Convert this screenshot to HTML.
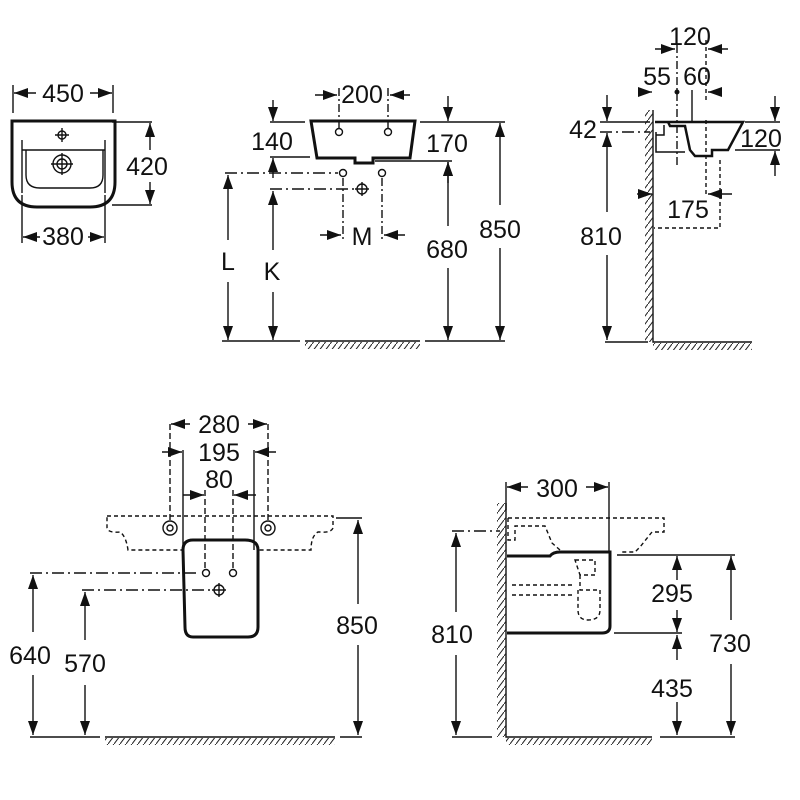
<!DOCTYPE html>
<html><head><meta charset="utf-8"><style>
html,body{margin:0;padding:0;background:#fff}
svg{display:block}
text{font-family:"Liberation Sans",sans-serif;font-size:25px;fill:#111;text-anchor:middle}
</style></head><body>
<svg width="800" height="800" viewBox="0 0 800 800" xmlns="http://www.w3.org/2000/svg">
<defs>
<marker id="a" markerUnits="userSpaceOnUse" markerWidth="16" markerHeight="10" refX="14" refY="5" orient="auto"><path d="M0,0 L14,5 L0,10 Z" fill="#111"/></marker>
<pattern id="h" width="6" height="8" patternUnits="userSpaceOnUse"><line x1="0" y1="8" x2="6" y2="0" stroke="#222" stroke-width="1"/></pattern>
</defs>
<g stroke="#111" stroke-width="1.4" fill="none">
<!-- Panel 1 -->
<path d="M12,121 H115 V182 Q115,207 90,207 H37 Q12,207 12,182 Z" stroke-width="3"/>
<path d="M22,140 V193 M105,140 V193" />
<path d="M22,150 H105 M26,150 V175 Q26,188 40,188 H90 Q103,188 103,175 V150"/>
<circle cx="62" cy="135" r="4"/><path d="M55,135 H69 M62,128 V142"/>
<circle cx="62" cy="164" r="9"/><circle cx="62" cy="164" r="5"/><path d="M51,164 H73 M62,153 V175"/>
<path d="M13,85 V113 M113,85 V113"/>
<line x1="36" y1="93" x2="14" y2="93" marker-end="url(#a)"/><line x1="90" y1="93" x2="112" y2="93" marker-end="url(#a)"/>
<path d="M112,122 H152 M112,205 H152"/>
<line x1="150" y1="150" x2="150" y2="123" marker-end="url(#a)"/><line x1="150" y1="182" x2="150" y2="204" marker-end="url(#a)"/>
<path d="M22,195 V243 M105,195 V243"/>
<line x1="40" y1="237" x2="23" y2="237" marker-end="url(#a)"/><line x1="88" y1="237" x2="104" y2="237" marker-end="url(#a)"/>

<!-- Panel 2 -->
<path d="M311,121 H415 L410,158 H373 V163 H355 V158 H317 Z" stroke-width="3"/>
<path d="M339,88 V128 M388,88 V128" stroke-dasharray="8,3,2,3"/>
<circle cx="339" cy="132" r="3.5"/><circle cx="388" cy="132" r="3.5"/>
<line x1="315" y1="95" x2="337" y2="95" marker-end="url(#a)"/><line x1="410" y1="95" x2="390" y2="95" marker-end="url(#a)"/>
<path d="M270,122 H305 M270,157 H310"/>
<line x1="273" y1="100" x2="273" y2="121" marker-end="url(#a)"/><line x1="273" y1="178" x2="273" y2="158" marker-end="url(#a)"/>
<path d="M420,122 H505 M375,161 H452"/>
<line x1="448" y1="96" x2="448" y2="121" marker-end="url(#a)"/><line x1="448" y1="183" x2="448" y2="162" marker-end="url(#a)"/>
<line x1="500" y1="205" x2="500" y2="123" marker-end="url(#a)"/><line x1="500" y1="248" x2="500" y2="340" marker-end="url(#a)"/>
<line x1="448" y1="226" x2="448" y2="162" marker-end="url(#a)"/><line x1="448" y1="268" x2="448" y2="340" marker-end="url(#a)"/>
<path d="M225,173 H338 M270,189 H356" stroke-dasharray="12,4,2,4"/>
<path d="M343,178 V240 M382,178 V240" stroke-dasharray="8,3,2,3"/>
<circle cx="343" cy="173" r="3.5"/><circle cx="382" cy="173" r="3.5"/>
<circle cx="362" cy="189" r="5"/><path d="M355,189 H369 M362,182 V196"/>
<line x1="320" y1="235" x2="341" y2="235" marker-end="url(#a)"/><line x1="405" y1="235" x2="384" y2="235" marker-end="url(#a)"/>
<line x1="228" y1="240" x2="228" y2="175" marker-end="url(#a)"/><line x1="228" y1="282" x2="228" y2="340" marker-end="url(#a)"/>
<line x1="273" y1="250" x2="273" y2="191" marker-end="url(#a)"/><line x1="273" y1="292" x2="273" y2="340" marker-end="url(#a)"/>
<path d="M222,341 H300 M305,341 H420 M425,341 H505"/>
<rect x="305" y="342" width="115" height="7" fill="url(#h)" stroke="none"/>

<!-- Panel 3 -->
<path d="M653,110 V342 H752"/>
<rect x="645" y="110" width="8" height="232" fill="url(#h)" stroke="none"/>
<rect x="653" y="343" width="99" height="7" fill="url(#h)" stroke="none"/>
<path d="M605,342 H648"/>
<path d="M655,122 H743 L728,150 H712 V156 H695 L690,150 L685,126 H670 L668,122" stroke-width="2.5"/>
<path d="M656,135 H664 V125 M656,132 V152 H685" stroke-width="1.5"/>
<path d="M677,45 V165" stroke-dasharray="8,3,2,3"/><circle cx="677" cy="92" r="1.8" fill="#111"/>
<path d="M706,40 V100 M706,120 V195" stroke-dasharray="4,3"/>
<path d="M692,90 V122"/>
<line x1="655" y1="49" x2="675" y2="49" marker-end="url(#a)"/><line x1="728" y1="49" x2="708" y2="49" marker-end="url(#a)"/>
<line x1="638" y1="92" x2="652" y2="92" marker-end="url(#a)"/><line x1="722" y1="92" x2="708" y2="92" marker-end="url(#a)"/>
<path d="M600,122 H650"/><path d="M600,132 H650" stroke-dasharray="12,4,2,4"/>
<line x1="607" y1="95" x2="607" y2="121" marker-end="url(#a)"/>
<line x1="607" y1="212" x2="607" y2="133" marker-end="url(#a)"/><line x1="607" y1="255" x2="607" y2="340" marker-end="url(#a)"/>
<path d="M745,122 H780 M735,150 H780"/>
<line x1="775" y1="96" x2="775" y2="121" marker-end="url(#a)"/><line x1="775" y1="176" x2="775" y2="151" marker-end="url(#a)"/>
<line x1="637" y1="194" x2="652" y2="194" marker-end="url(#a)"/><line x1="732" y1="194" x2="708" y2="194" marker-end="url(#a)"/>
<path d="M720,160 V228 H654" stroke-dasharray="4,3"/>

<!-- Panel 4 -->
<path d="M107,516 H333 V528 Q331,533 320,532 H318 Q311,536 311,550 H250 Q240,540 219,540 Q198,540 188,550 H128 Q126,536 120,532 Q108,533 107,528 Z" stroke-dasharray="4,3"/>
<circle cx="170" cy="528" r="7"/><circle cx="170" cy="528" r="3"/>
<circle cx="268" cy="528" r="7"/><circle cx="268" cy="528" r="3"/>
<path d="M183,550 Q183,540 193,540 H245 Q258,540 258,550 V627 Q258,637 248,637 H193 Q185,637 185,627 Z" stroke-width="3" fill="#fff"/>
<path d="M170,424 V521 M268,424 V521" stroke-dasharray="6,3"/>
<line x1="190" y1="424" x2="171" y2="424" marker-end="url(#a)"/><line x1="248" y1="424" x2="267" y2="424" marker-end="url(#a)"/>
<path d="M183,450 V550 M254,450 V550"/>
<line x1="162" y1="452" x2="182" y2="452" marker-end="url(#a)"/><line x1="276" y1="452" x2="255" y2="452" marker-end="url(#a)"/>
<path d="M205,490 V568 M233,490 V568" stroke-dasharray="6,3"/>
<line x1="183" y1="495" x2="204" y2="495" marker-end="url(#a)"/><line x1="256" y1="495" x2="234" y2="495" marker-end="url(#a)"/>
<circle cx="206" cy="573" r="3.5"/><circle cx="233" cy="573" r="3.5"/>
<circle cx="219" cy="590" r="5"/><path d="M212,590 H226 M219,583 V597"/>
<path d="M30,573 H200 M82,590 H212" stroke-dasharray="12,4,2,4"/>
<line x1="33" y1="632" x2="33" y2="575" marker-end="url(#a)"/><line x1="33" y1="675" x2="33" y2="735" marker-end="url(#a)"/>
<line x1="85" y1="640" x2="85" y2="592" marker-end="url(#a)"/><line x1="85" y1="685" x2="85" y2="735" marker-end="url(#a)"/>
<path d="M336,518 H362"/>
<line x1="358" y1="604" x2="358" y2="520" marker-end="url(#a)"/><line x1="358" y1="645" x2="358" y2="735" marker-end="url(#a)"/>
<path d="M30,737 H100 M105,737 H335 M340,737 H362"/>
<rect x="105" y="738" width="230" height="7" fill="url(#h)" stroke="none"/>

<!-- Panel 5 -->
<path d="M506,503 V737 H652"/>
<rect x="497" y="503" width="9" height="234" fill="url(#h)" stroke="none"/>
<rect x="506" y="738" width="146" height="7" fill="url(#h)" stroke="none"/>
<path d="M452,737 H492 M660,737 H735"/>
<path d="M508,518 H664 V532 H652 L640,547 L635,552 H620 M508,518 V540 H515 V526 H545 L552,543 L560,550" stroke-dasharray="4,3"/>
<path d="M575,560 H595 V575 H580 Z M580,575 V590 H600 V610 Q600,620 588,620 Q578,620 578,610 V590 M512,585 H575 M512,595 H575" stroke-dasharray="4,3"/>
<path d="M507,556 H550 Q553,552 560,552 H610 V626 Q610,633 602,633 H507" stroke-width="3"/>
<path d="M506,482 V510 M609,482 V552"/>
<line x1="528" y1="487" x2="507" y2="487" marker-end="url(#a)"/><line x1="586" y1="487" x2="608" y2="487" marker-end="url(#a)"/>
<path d="M452,531 H500" stroke-dasharray="12,4,2,4"/>
<line x1="456" y1="612" x2="456" y2="533" marker-end="url(#a)"/><line x1="456" y1="655" x2="456" y2="735" marker-end="url(#a)"/>
<path d="M617,555 H735 M614,633 H682"/>
<line x1="677" y1="580" x2="677" y2="556" marker-end="url(#a)"/><line x1="677" y1="610" x2="677" y2="632" marker-end="url(#a)"/>
<line x1="677" y1="660" x2="677" y2="635" marker-end="url(#a)"/><line x1="677" y1="702" x2="677" y2="735" marker-end="url(#a)"/>
<line x1="731" y1="620" x2="731" y2="556" marker-end="url(#a)"/><line x1="731" y1="664" x2="731" y2="735" marker-end="url(#a)"/>
</g>
<g>
<text x="63" y="102">450</text><text x="147" y="175">420</text><text x="63" y="245">380</text>
<text x="362" y="103">200</text><text x="272" y="150">140</text><text x="447" y="152">170</text>
<text x="500" y="238">850</text><text x="447" y="258">680</text><text x="362" y="245">M</text>
<text x="228" y="270">L</text><text x="272" y="280">K</text>
<text x="690" y="45">120</text><text x="657" y="85">55</text><text x="697" y="85">60</text>
<text x="583" y="138">42</text><text x="601" y="245">810</text><text x="761" y="147">120</text><text x="688" y="218">175</text>
<text x="219" y="433">280</text><text x="219" y="461">195</text><text x="219" y="488">80</text>
<text x="30" y="664">640</text><text x="85" y="672">570</text><text x="357" y="634">850</text>
<text x="557" y="497">300</text><text x="452" y="643">810</text><text x="672" y="602">295</text>
<text x="730" y="652">730</text><text x="672" y="697">435</text>
</g>
</svg>
</body></html>
